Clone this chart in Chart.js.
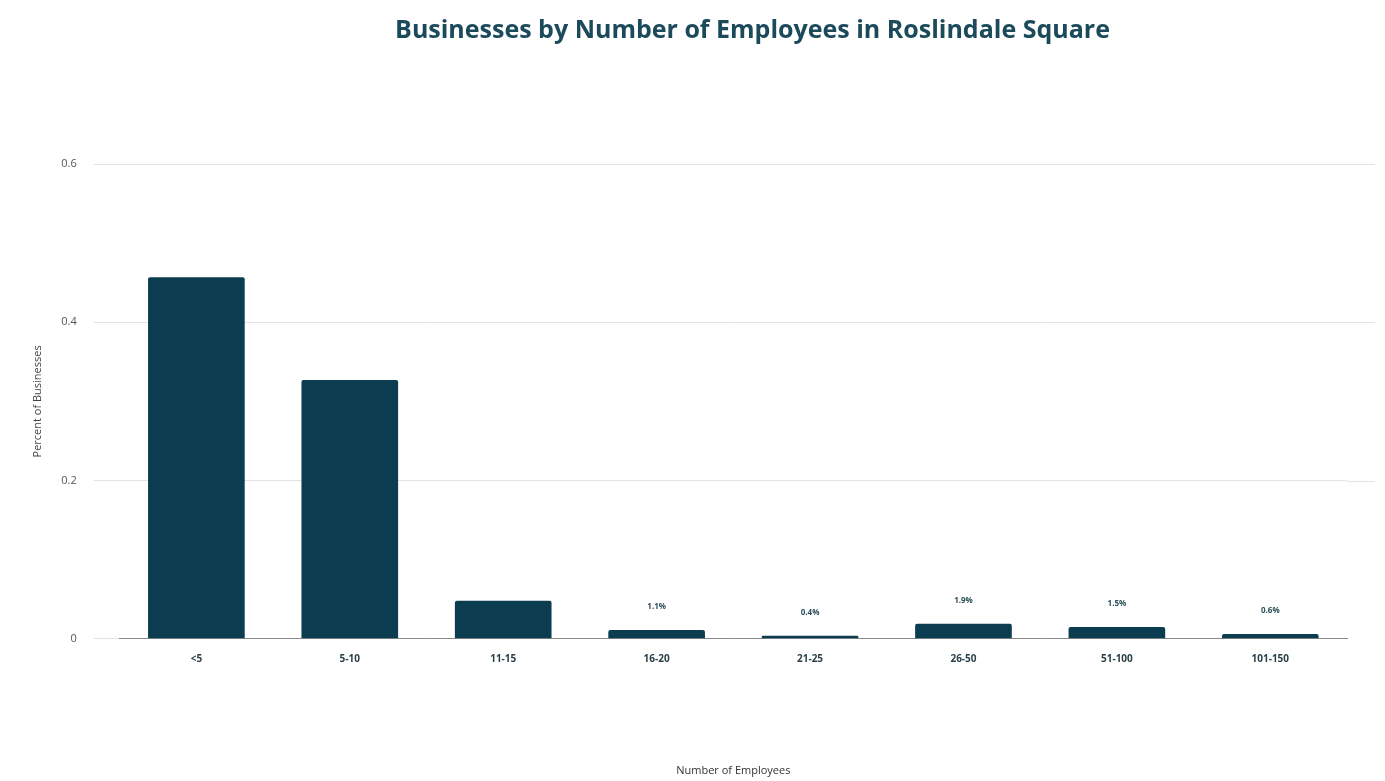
<!DOCTYPE html>
<html>
<head>
<meta charset="utf-8">
<script src="https://cdn.jsdelivr.net/npm/chart.js@4"></script>
<style>
    html, body { margin: 0; padding: 0; background: #fff; }
    #wrap { position: relative; width: 1385px; height: 781px; }
    #title {
        position: absolute; top: 11px; left: 0; width: 1505px; text-align: center;
        font-family: "Open Sans", sans-serif; font-weight: 700; font-size: 25px; color: #1b4a5b;
    }
</style>
</head>
<body>
<div id="wrap">
    <div id="title">Businesses by Number of Employees in Roslindale Square</div>
    <canvas id="chart" width="1385" height="781"></canvas>
</div>
<script>
// data
const categories = ['<5', '5-10', '11-15', '16-20', '21-25', '26-50', '51-100', '101-150'];
const shares = [0.457, 0.327, 0.048, 0.011, 0.004, 0.019, 0.015, 0.006];
const valueLabels = ['', '', '', '1.1%', '0.4%', '1.9%', '1.5%', '0.6%'];
const yTicks = [0, 0.2, 0.4, 0.6];

const barColor = '#0c3c4f';

// small labels above the short bars
const barLabels = {
    id: 'barLabels',
    afterDatasetsDraw(chart) {
        const ctx = chart.ctx;
        const meta = chart.getDatasetMeta(0);
        ctx.save();
        ctx.font = 'bold 8px "Open Sans", sans-serif';
        ctx.fillStyle = '#2d4f5c';
        ctx.textAlign = 'center';
        ctx.textBaseline = 'bottom';
        meta.data.forEach((bar, i) => {
            if (!valueLabels[i]) return;
            ctx.fillText(valueLabels[i], bar.x, bar.y - 19);
        });
        ctx.restore();
    }
};

// grid lines run a bit past the right edge of the plot
const gridExtend = {
    id: 'gridExtend',
    beforeDatasetsDraw(chart) {
        const { ctx, chartArea, scales } = chart;
        ctx.save();
        ctx.strokeStyle = '#e3e3e3';
        ctx.lineWidth = 1;
        yTicks.forEach(v => {
            if (v === 0) return;
            const y = Math.round(scales.y.getPixelForValue(v)) + 0.5;
            ctx.beginPath();
            ctx.moveTo(chartArea.right, y);
            ctx.lineTo(chartArea.right + 28, y);
            ctx.stroke();
        });
        ctx.restore();
    }
};

new Chart(document.getElementById('chart'), {
    type: 'bar',
    data: {
        labels: categories,
        datasets: [{
            data: shares,
            backgroundColor: barColor,
            borderRadius: 2,
            borderSkipped: 'bottom',
            barPercentage: 0.63,
            categoryPercentage: 1
        }]
    },
    options: {
        responsive: false,
        animation: false,
        layout: { padding: { top: 164, right: 38, left: 27, bottom: 4 } },
        plugins: {
            legend: { display: false },
            tooltip: { enabled: false }
        },
        scales: {
            x: {
                grid: { display: false, drawTicks: false },
                border: { color: '#8a8a8a', width: 1 },
                ticks: {
                    color: '#2a3f48',
                    font: { family: 'Open Sans', size: 10, weight: 'bold' },
                    padding: 14
                },
                title: {
                    display: true,
                    text: 'Number of Employees',
                    color: '#333',
                    font: { family: 'Open Sans', size: 11 },
                    padding: { top: 85, bottom: 0 }
                }
            },
            y: {
                min: 0,
                max: 0.6,
                afterBuildTicks(axis) {
                    axis.ticks = yTicks.map(v => ({ value: v }));
                },
                grid: { color: '#e3e3e3', tickLength: 26, tickColor: '#e3e3e3' },
                border: { display: false },
                ticks: {
                    color: '#555',
                    font: { family: 'Open Sans', size: 11 },
                    padding: 17,
                    callback: v => String(v)
                },
                title: {
                    display: true,
                    text: 'Percent of Businesses',
                    color: '#444',
                    font: { family: 'Open Sans', size: 11 },
                    padding: { bottom: 0 }
                }
            }
        }
    },
    plugins: [gridExtend, barLabels]
});
</script>
</body>
</html>
